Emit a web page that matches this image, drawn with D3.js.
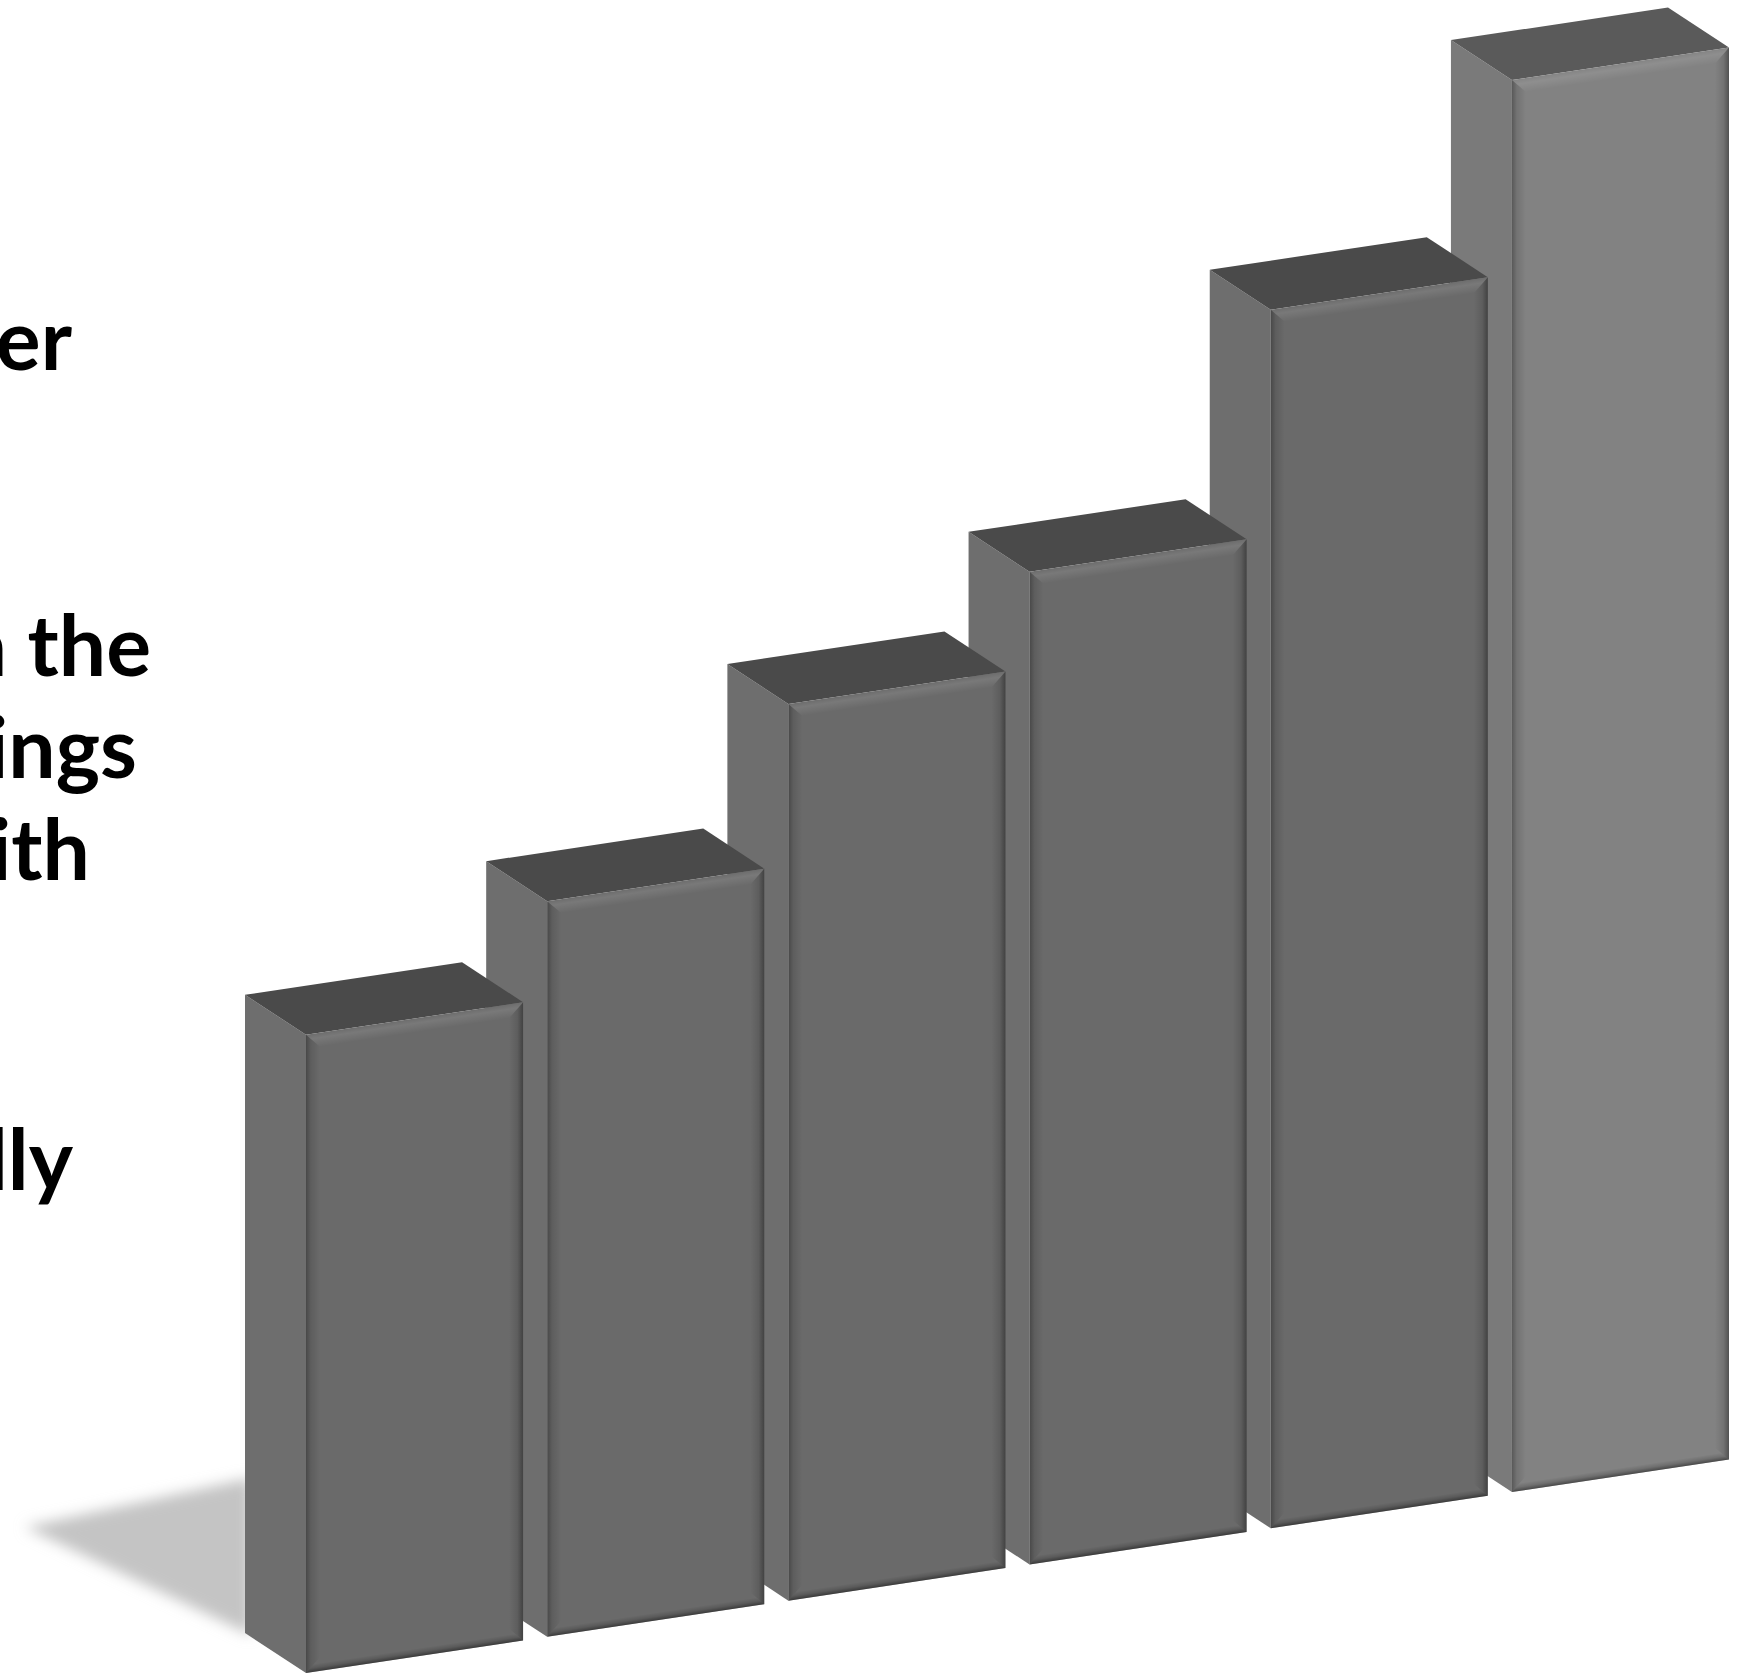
<!DOCTYPE html>
<html>
<head>
<meta charset="utf-8">
<script src="https://cdn.jsdelivr.net/npm/d3@7"></script>
<style>
  html, body { margin: 0; padding: 0; background: #ffffff; overflow: hidden; }
  svg { display: block; }
</style>
</head>
<body>
<svg id="chart" width="1759" height="1676"></svg>
<script>
// Series data
const categories = ["1", "2", "3", "4", "5", "6"];
const values = [45.2, 52.1, 63.5, 70.3, 86.3, 100];

// Text fragments running in from the left edge
const textLines = ["er", "n the", "ings", "ith", "lly"];
const textBaselines = [370, 676, 778, 880, 1190];
const textRightEdges = [72, 151, 137, 90, 73];

const width = 1759, height = 1676;
const svg = d3.select("#chart");

// Oblique 3-D projection: the floor slopes up to the right, depth goes up-left
const slope = -0.15;
const depth = { dx: -61, dy: -40 };
const floorX0 = 306, floorY0 = 1673;
const floorY = px => floorY0 + slope * (px - floorX0);

const x = d3.scaleBand()
  .domain(categories)
  .range([306, 1729])
  .paddingInner(0.1)
  .paddingOuter(0);

const y = d3.scaleLinear()
  .domain([0, 100])
  .range([0, 1412]);

const defs = svg.append("defs");

const blur = defs.append("filter").attr("id", "softShadow")
  .attr("x", "-20%").attr("y", "-50%").attr("width", "140%").attr("height", "200%");
blur.append("feGaussianBlur").attr("stdDeviation", 7);

function grad(id, x1, y1, x2, y2, stops) {
  const g = defs.append("linearGradient").attr("id", id)
    .attr("x1", x1).attr("y1", y1).attr("x2", x2).attr("y2", y2);
  stops.forEach(s => g.append("stop").attr("offset", s[0])
    .attr("stop-color", s[1]).attr("stop-opacity", s[2]));
}
grad("bevL", 0, 0, 1, 0, [[0, "#000", 0.32], [0.35, "#000", 0.12], [1, "#000", 0]]);
grad("bevR", 1, 0, 0, 0, [[0, "#000", 0.38], [0.4, "#000", 0.12], [1, "#000", 0]]);
grad("bevT", 0, 0, 0, 1, [[0, "#fff", 0.02], [0.35, "#fff", 0.10], [1, "#fff", 0]]);
grad("bevB", 0, 1, 0, 0, [[0, "#000", 0.45], [0.5, "#000", 0.15], [1, "#000", 0]]);

// Cast shadow on the floor, to the left of the first bar
const firstX = x(categories[0]);
svg.append("polygon")
  .attr("points", [
    [25, 1527],
    [firstX - 55, floorY(firstX) - 195],
    [firstX - 55, floorY(firstX) - 38]
  ].map(p => p.join(",")).join(" "))
  .attr("fill", "#c4c4c4")
  .attr("filter", "url(#softShadow)");

// Left text block
svg.append("g")
  .selectAll("text")
  .data(textLines)
  .join("text")
  .attr("x", (d, i) => textRightEdges[i])
  .attr("y", (d, i) => textBaselines[i])
  .attr("text-anchor", "end")
  .attr("font-family", "Lato, 'Open Sans', sans-serif")
  .attr("font-weight", 700)
  .attr("font-size", 84)
  .attr("fill", "#000")
  .text(d => d);

// Bars, drawn right to left so nearer faces cover the sides behind them
const bars = categories.map((c, i) => ({ c, v: values[i], i }));
const last = bars.length - 1;
const bw = x.bandwidth();
const bevel = 14;

const barG = svg.append("g")
  .selectAll("g.bar")
  .data(bars.slice().reverse())
  .join("g")
  .attr("class", "bar");

barG.each(function (d) {
  const g = d3.select(this);
  const x0 = x(d.c);
  const h = y(d.v);
  const yb = floorY(x0);
  const yt = yb - h;
  const hi = d.i === last;
  const cFront = hi ? "#828282" : "#6a6a6a";
  const cSide = hi ? "#7a7a7a" : "#6e6e6e";
  const cTop = hi ? "#5a5a5a" : "#4a4a4a";

  const pts = arr => arr.map(p => p.join(",")).join(" ");

  // left side face
  g.append("polygon")
    .attr("points", pts([
      [x0, yt], [x0, yb], [x0 + depth.dx, yb + depth.dy], [x0 + depth.dx, yt + depth.dy]
    ]))
    .attr("fill", cSide);

  // top face
  g.append("polygon")
    .attr("points", pts([
      [x0, yt], [x0 + bw, yt + slope * bw],
      [x0 + bw + depth.dx, yt + slope * bw + depth.dy], [x0 + depth.dx, yt + depth.dy]
    ]))
    .attr("fill", cTop);

  // front face, in its own sheared frame
  const f = g.append("g")
    .attr("transform", `matrix(1,${slope},0,1,${x0},${yt})`);
  f.append("rect").attr("width", bw).attr("height", h).attr("fill", cFront);
  f.append("polygon")
    .attr("points", pts([[0, 0], [bevel, bevel], [bevel, h - bevel], [0, h]]))
    .attr("fill", "url(#bevL)");
  f.append("polygon")
    .attr("points", pts([[bw, 0], [bw, h], [bw - bevel, h - bevel], [bw - bevel, bevel]]))
    .attr("fill", "url(#bevR)");
  f.append("polygon")
    .attr("points", pts([[0, 0], [bw, 0], [bw - bevel, bevel], [bevel, bevel]]))
    .attr("fill", "url(#bevT)");
  f.append("polygon")
    .attr("points", pts([[0, h], [bw, h], [bw - 8, h - 8], [8, h - 8]]))
    .attr("fill", "url(#bevB)");
});
</script>
</body>
</html>
